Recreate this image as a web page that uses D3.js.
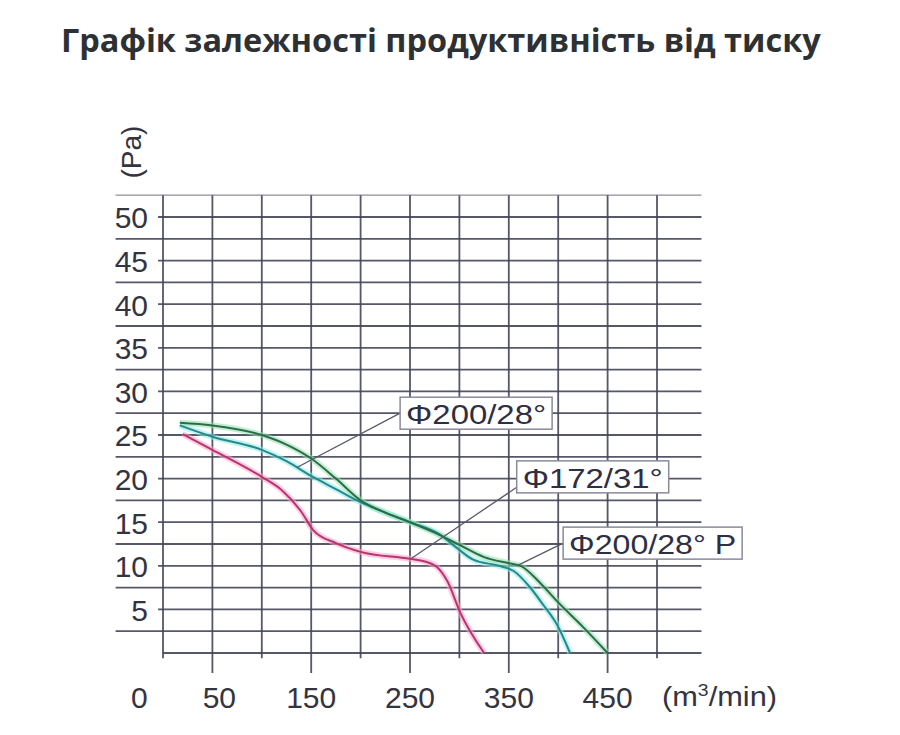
<!DOCTYPE html>
<html>
<head>
<meta charset="utf-8">
<script src="https://cdn.jsdelivr.net/npm/d3@7"></script>
<style>
  body { margin: 0; background: #fff; }
  .tick-label { font-family: "Liberation Sans", Arial, sans-serif; fill: #34343f; }
</style>
</head>
<body>
<div class="chart"></div>
<script>
// --- data ---
const flow200 = [17, 50, 100, 125, 150, 175, 200, 225, 250, 280, 298, 314, 340, 355, 371, 385, 399, 412];
const pressure200 = [26.1, 24.8, 23.3, 22.0, 20.3, 18.8, 17.3, 16.1, 15.0, 13.6, 12.0, 10.7, 10.0, 9.4, 7.6, 5.5, 3.2, 0];

const flow172 = [20, 50, 100, 120, 140, 152, 175, 200, 250, 265, 277, 288, 301, 325];
const pressure172 = [25.1, 23.3, 20.2, 18.7, 16.2, 14.1, 12.6, 11.6, 10.8, 10.5, 9.9, 8.2, 4.6, 0];

const flow200P = [17, 50, 100, 125, 150, 175, 200, 225, 250, 275, 300, 325, 350, 362, 382, 400, 425, 450];
const pressure200P = [26.4, 26.1, 25.0, 23.9, 22.3, 20.0, 17.5, 16.1, 15.0, 13.8, 12.4, 11.0, 10.3, 10.0, 8.0, 5.8, 3.0, 0];

const seriesNames = ["Φ200/28°", "Φ172/31°", "Φ200/28° P"];
const yTickLabels = [5, 10, 15, 20, 25, 30, 35, 40, 45, 50];
const xTickLabels = ["0", "50", "150", "250", "350", "450"];
const xTickLabelAt = [-24, 57, 150, 250, 350, 450];   // where the printed labels sit, in flow units

// callouts: box left edge / centre, leader start and end (data units)
const boxX = [240, 358, 405];
const boxY = [27.5, 20.2, 12.6];
const leaderFromY = [27.5, 19.0, 12.6];
const leaderToX = [136, 252, 358];
const leaderToY = [21.3, 10.9, 10.0];

const width = 900, height = 735;

const svg = d3.select(".chart").append("svg")
    .attr("width", width)
    .attr("height", height);

// title
svg.append("text")
    .attr("x", 61)
    .attr("y", 52)
    .style("font-family", "'Open Sans', sans-serif")
    .style("font-weight", "bold")
    .style("font-size", "32.5px")
    .style("fill", "#2e3134")
    .text("Графік залежності продуктивність від тиску");

const x = d3.scaleLinear().domain([0, 500]).range([163, 657]);
const y = d3.scaleLinear().domain([0, 50]).range([653, 217]);

const gridColor = "#45455a";

// horizontal grid: every 2.5 Pa, the labelled ones start at the axis, the others run under the labels
const grid = svg.append("g").attr("class", "grid");
grid.selectAll("line.h")
    .data(d3.range(0, 52.6, 2.5))
    .enter()
    .append("line")
        .attr("class", "h")
        .attr("x1", d => d % 5 === 0 ? (d === 0 ? x(0) : x(-5)) : x(-48))
        .attr("x2", x(545))
        .attr("y1", d => y(d))
        .attr("y2", d => y(d))
        .style("stroke", gridColor)
        .style("stroke-width", d => d === 52.5 ? 1.2 : 1.8)
        .style("opacity", d => d === 52.5 ? 0.6 : 0.9);

// vertical grid, those under a label stick out a little
grid.selectAll("line.v")
    .data(d3.range(0, 501, 50))
    .enter()
    .append("line")
        .attr("class", "v")
        .attr("x1", d => x(d))
        .attr("x2", d => x(d))
        .attr("y1", y(52.5))
        .attr("y2", d => (d / 50) % 2 === 1 ? y(-2.3) : y(-0.6))
        .style("stroke", gridColor)
        .style("stroke-width", 1.8)
        .style("opacity", 0.9);

// y labels
const yAxis = d3.axisLeft(y)
    .tickValues(yTickLabels)
    .tickSize(0)
    .tickPadding(0);
const yg = svg.append("g")
    .attr("transform", "translate(148,0)")
    .call(yAxis);
yg.select(".domain").remove();
yg.selectAll("text")
    .attr("class", "tick-label")
    .attr("dy", "0.36em")
    .style("font-size", "30px");

svg.append("text")
    .attr("class", "tick-label")
    .attr("transform", "translate(141,152) rotate(-90)")
    .attr("text-anchor", "middle")
    .style("font-size", "28px")
    .text("(Pa)");

// x labels
svg.selectAll("text.xlab")
    .data(xTickLabels)
    .enter()
    .append("text")
        .attr("class", "tick-label xlab")
        .attr("x", (d, i) => x(xTickLabelAt[i]))
        .attr("y", 708)
        .attr("text-anchor", "middle")
        .style("font-size", "30px")
        .text(d => d);

const unit = svg.append("text")
    .attr("class", "tick-label")
    .attr("x", 662)
    .attr("y", 706)
    .attr("textLength", 115)
    .attr("lengthAdjust", "spacingAndGlyphs")
    .style("font-size", "27px");
unit.append("tspan").text("(m");
unit.append("tspan").attr("dy", -10).style("font-size", "17px").text("3");
unit.append("tspan").attr("dy", 10).text("/min)");

// curves
const line = d3.line()
    .x(d => x(d[0]))
    .y(d => y(d[1]))
    .curve(d3.curveMonotoneX);

const curves = [
    { pts: d3.zip(flow200, pressure200), core: "#2b8786", halo: "#86ecec" },
    { pts: d3.zip(flow172, pressure172), core: "#b8346c", halo: "#ffa3cc" },
    { pts: d3.zip(flow200P, pressure200P), core: "#2e6a4f", halo: "#8fe3a6" }
];

const cg = svg.append("g").attr("class", "curves");
cg.selectAll("path.halo")
    .data(curves)
    .enter()
    .append("path")
        .attr("class", "halo")
        .attr("d", d => line(d.pts))
        .style("fill", "none")
        .style("stroke", d => d.halo)
        .style("stroke-width", 6)
        .style("opacity", 0.55);
cg.selectAll("path.core")
    .data(curves)
    .enter()
    .append("path")
        .attr("class", "core")
        .attr("d", d => line(d.pts))
        .style("fill", "none")
        .style("stroke", d => d.core)
        .style("stroke-width", 2);

// callouts
const textLen = [140, 140, 167];
const ann = svg.append("g").attr("class", "callouts");
seriesNames.forEach(function(name, i) {
    ann.append("line")
        .attr("x1", x(boxX[i]))
        .attr("y1", y(leaderFromY[i]))
        .attr("x2", x(leaderToX[i]))
        .attr("y2", y(leaderToY[i]))
        .style("stroke", "#5a5a6a")
        .style("stroke-width", 1.3);

    const bw = textLen[i] + 12, bh = 32;
    ann.append("rect")
        .attr("x", x(boxX[i]))
        .attr("y", y(boxY[i]) - bh / 2)
        .attr("width", bw)
        .attr("height", bh)
        .style("fill", "#fff")
        .style("stroke", "#8a8a9c")
        .style("stroke-width", 1.5);

    ann.append("text")
        .attr("class", "tick-label")
        .attr("x", x(boxX[i]) + 6)
        .attr("y", y(boxY[i]) + 11)
        .attr("textLength", textLen[i])
        .attr("lengthAdjust", "spacingAndGlyphs")
        .style("font-size", "28px")
        .style("fill", "#2e2e44")
        .text(name);
});
</script>
</body>
</html>
